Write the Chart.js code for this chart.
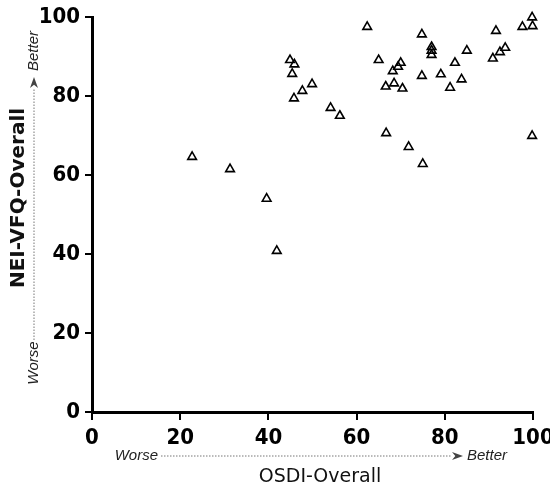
<!DOCTYPE html>
<html>
<head>
<meta charset="utf-8">
<script src="https://cdn.jsdelivr.net/npm/chart.js@4/dist/chart.umd.min.js"></script>
<style>
  body { margin: 0; background: #fff; }
  #box { width: 550px; height: 491px; }
</style>
</head>
<body>
<div id="box"><canvas id="nuage"></canvas></div>
<script>
// valeurs
const osdi = [22.7, 31.3, 39.6, 41.9, 44.9, 45.9, 45.4, 49.9, 47.7, 45.8, 54.1, 56.2,
              62.4, 65.0, 74.8, 77.0, 77.0, 77.0, 85.0, 70.0, 69.4, 68.2, 82.3, 74.8,
              79.1, 83.8, 66.6, 68.5, 70.4, 81.2, 66.7, 71.8, 75.0, 99.8, 91.6, 97.6,
              99.8, 99.9, 93.7, 92.5, 90.9];
const nei = [64.6, 61.5, 54.0, 40.8, 89.1, 88.0, 85.6, 83.0, 81.3, 79.4, 77.0, 75.0,
             97.5, 89.1, 95.6, 92.4, 91.5, 90.4, 91.5, 88.4, 87.4, 86.3, 88.4, 85.1,
             85.5, 84.2, 82.4, 83.2, 81.9, 82.1, 70.6, 67.1, 62.8, 69.9, 96.5, 97.5,
             99.9, 97.7, 92.2, 91.1, 89.5];
const graduations = [0, 20, 40, 60, 80, 100];
const titreX = 'OSDI-Overall';
const titreY = 'NEI-VFQ-Overall';
const sens = ['Worse', 'Better'];

const points = osdi.map((x, i) => ({ x: x, y: nei[i] }));

const fontTicks = { family: '"DejaVu Sans Condensed", "DejaVu Sans"', size: 22, weight: 'bold' };

function fleche(ctx, x1, y1, x2, y2) {
    // ligne pointillée puis tête pleine
    const ang = Math.atan2(y2 - y1, x2 - x1);
    const lg = 11;
    ctx.strokeStyle = '#777';
    ctx.lineWidth = 1;
    ctx.setLineDash([1.5, 1.5]);
    ctx.beginPath();
    ctx.moveTo(x1, y1);
    ctx.lineTo(x2 - Math.cos(ang) * lg, y2 - Math.sin(ang) * lg);
    ctx.stroke();
    ctx.setLineDash([]);
    ctx.fillStyle = '#444';
    ctx.beginPath();
    ctx.moveTo(x2, y2);
    ctx.lineTo(x2 - Math.cos(ang) * lg - Math.sin(ang) * 4, y2 - Math.sin(ang) * lg + Math.cos(ang) * 4);
    ctx.lineTo(x2 - Math.cos(ang) * lg * 0.7, y2 - Math.sin(ang) * lg * 0.7);
    ctx.lineTo(x2 - Math.cos(ang) * lg + Math.sin(ang) * 4, y2 - Math.sin(ang) * lg - Math.cos(ang) * 4);
    ctx.closePath();
    ctx.fill();
}

const annotations = {
    id: 'annotations',
    afterDraw(chart) {
        const ctx = chart.ctx;
        const a = chart.chartArea;
        ctx.save();
        ctx.textBaseline = 'middle';

        // titre axe x
        ctx.fillStyle = '#111';
        ctx.font = '19px "DejaVu Sans"';
        ctx.textAlign = 'center';
        ctx.fillText(titreX, a.left + 228, a.bottom + 65);

        // titre axe y
        ctx.save();
        ctx.translate(19, a.top + 181);
        ctx.rotate(-Math.PI / 2);
        ctx.font = 'bold 20px "DejaVu Sans"';
        ctx.fillText(titreY, 0, 0);
        ctx.restore();

        // worse -> better, horizontal
        const yh = a.bottom + 44;
        ctx.font = 'italic 15px "Liberation Sans"';
        ctx.fillStyle = '#222';
        ctx.textAlign = 'right';
        ctx.fillText(sens[0], 158, yh);
        ctx.textAlign = 'left';
        ctx.fillText(sens[1], 467, yh);
        fleche(ctx, 161, yh, 463, yh);

        // worse -> better, vertical
        const xv = 34;
        ctx.save();
        ctx.translate(xv, 363);
        ctx.rotate(-Math.PI / 2);
        ctx.textAlign = 'center';
        ctx.fillStyle = '#222';
        ctx.fillText(sens[0], 0, 0);
        ctx.restore();
        ctx.save();
        ctx.translate(xv, 51);
        ctx.rotate(-Math.PI / 2);
        ctx.textAlign = 'center';
        ctx.fillStyle = '#222';
        ctx.fillText(sens[1], 0, 0);
        ctx.restore();
        fleche(ctx, xv, 340, xv, 77);

        ctx.restore();
    }
};

new Chart(document.getElementById('nuage'), {
    type: 'scatter',
    data: {
        datasets: [{
            data: points,
            pointStyle: 'triangle',
            pointRadius: 5,
            pointBorderWidth: 1.6,
            borderColor: '#000',
            backgroundColor: 'rgba(0,0,0,0)',
            clip: false
        }]
    },
    options: {
        responsive: true,
        maintainAspectRatio: false,
        animation: false,
        layout: { padding: { left: 0, top: 17, right: 17, bottom: 0 } },
        plugins: { legend: { display: false }, tooltip: { enabled: false } },
        scales: {
            x: {
                min: 0, max: 100,
                afterBuildTicks: s => { s.ticks = graduations.map(v => ({ value: v })); },
                afterFit: s => { s.height = 79; s.paddingLeft = 0; s.paddingRight = 0; },
                border: { color: '#000', width: 3 },
                grid: { drawOnChartArea: false, tickLength: 8, color: '#000', lineWidth: 2 },
                ticks: { color: '#000', font: fontTicks, padding: 5, maxRotation: 0 }
            },
            y: {
                min: 0, max: 100,
                afterBuildTicks: s => { s.ticks = graduations.map(v => ({ value: v })); },
                afterFit: s => { s.width = 92; s.paddingTop = 0; s.paddingBottom = 0; },
                border: { color: '#000', width: 3 },
                grid: { drawOnChartArea: false, tickLength: 7, color: '#000', lineWidth: 2 },
                ticks: { color: '#000', font: fontTicks, padding: 5 }
            }
        }
    },
    plugins: [annotations]
});
</script>
</body>
</html>
